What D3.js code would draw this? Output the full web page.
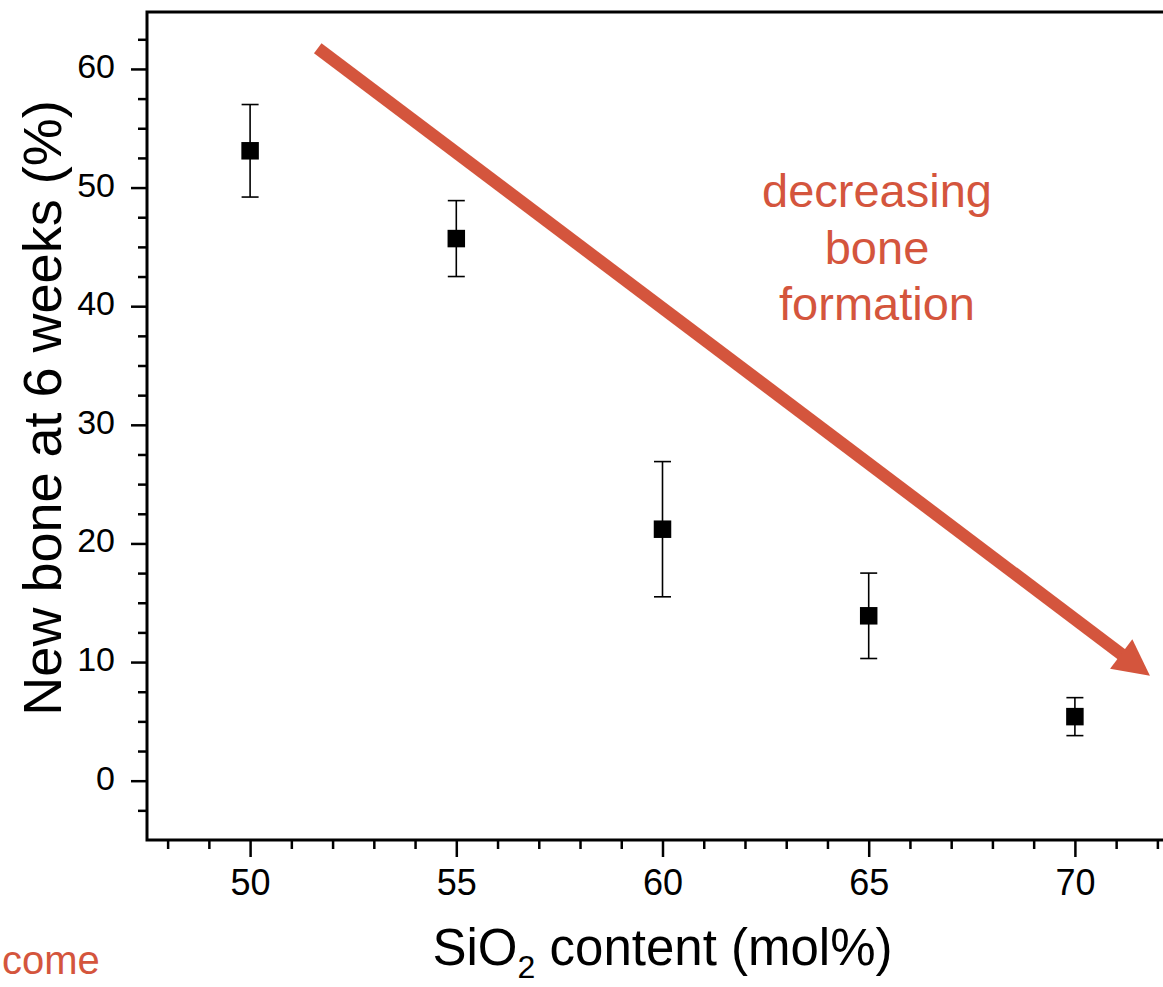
<!DOCTYPE html>
<html>
<head>
<meta charset="utf-8">
<script src="https://cdn.jsdelivr.net/npm/d3@7"></script>
<style>
    body { margin: 0; background: #fff; }
    svg { display: block; font-family: "Liberation Sans", Arial, sans-serif; }
</style>
</head>
<body>
<div id="container"></div>
<script>
"use strict";

// data
var sio2 = [50, 55, 60, 65, 70];
var newBone = [53.1, 45.7, 21.2, 13.9, 5.4];
var boneErr = [3.9, 3.2, 5.7, 3.6, 1.6];

var xTickValues = [50, 55, 60, 65, 70];
var yTickValues = [0, 10, 20, 30, 40, 50, 60];

// annotation arrow, in data units (start, tip)
var arrowX = [51.64, 71.82];
var arrowY = [61.75, 8.85];

var red = "#d4553d";
var font = "Liberation Sans, Arial, sans-serif";
var width = 1163;
var height = 987;
var margin = { left: 147, top: 12 };
var plotW = 1031;
var plotH = 828;

var svg = d3.select("#container").append("svg").attr("width", width).attr("height", height);
var g = svg.append("g").attr("transform", "translate(" + margin.left + "," + margin.top + ")");

var x = d3.scaleLinear().domain([47.5, 72.5]).range([0, plotW]);
var y = d3.scaleLinear().domain([-5, 64.8]).range([plotH, 0]);

var xMinor = d3.range(48, 73, 1).filter(function (v) { return v % 5 !== 0; });
var yMinor = d3.range(-2.5, 64, 2.5).filter(function (v) { return v % 10 !== 0; });

// minor ticks
g.append("g").attr("class", "x-minor").attr("transform", "translate(0," + plotH + ")")
    .call(d3.axisBottom(x).tickValues(xMinor).tickSize(9).tickFormat(""));
g.append("g").attr("class", "y-minor")
    .call(d3.axisLeft(y).tickValues(yMinor).tickSize(9).tickFormat(""));

// major ticks
var xAxis = g.append("g").attr("class", "x-axis").attr("transform", "translate(0," + plotH + ")")
    .call(d3.axisBottom(x).tickValues(xTickValues).tickSize(17).tickPadding(12).tickFormat(d3.format("d")));
var yAxis = g.append("g").attr("class", "y-axis")
    .call(d3.axisLeft(y).tickValues(yTickValues).tickSize(16).tickPadding(16).tickFormat(d3.format("d")));

g.selectAll(".domain").remove();
g.selectAll(".tick line").attr("stroke", "#000").attr("stroke-width", 2.5);
xAxis.attr("font-family", font);
yAxis.attr("font-family", font);
xAxis.selectAll("text").attr("font-size", 36).attr("fill", "#000");
yAxis.selectAll("text").attr("font-size", 34).attr("fill", "#000").attr("dy", "0.25em");

// frame (left, bottom, top, right)
g.append("path")
    .attr("d", "M" + [x(72.5), 0] + "H0V" + plotH + "H" + x(72.5) + "V0")
    .attr("fill", "none").attr("stroke", "#000").attr("stroke-width", 3)
    .attr("stroke-linecap", "square");

// annotation arrow
var x0 = x(arrowX[0]), y0 = y(arrowY[0]), x1 = x(arrowX[1]), y1 = y(arrowY[1]);
var len = Math.sqrt((x1 - x0) * (x1 - x0) + (y1 - y0) * (y1 - y0));
var ux = (x1 - x0) / len, uy = (y1 - y0) / len;
var headL = 36, headW = 18.5;
var bx = x1 - ux * headL, by = y1 - uy * headL;
g.append("line")
    .attr("x1", x0).attr("y1", y0)
    .attr("x2", bx + ux * 4).attr("y2", by + uy * 4)
    .attr("stroke", red).attr("stroke-width", 12.5);
g.append("path")
    .attr("d", "M" + [x1, y1] + "L" + [bx - uy * headW, by + ux * headW] + "L" + [bx + uy * headW, by - ux * headW] + "Z")
    .attr("fill", red);

// error bars
var pts = sio2.map(function (v, i) {
    return { x: v, y: newBone[i], e: boneErr[i] };
});
var capW = 8.5;
var eb = g.selectAll(".err").data(pts).enter().append("g").attr("class", "err")
    .attr("stroke", "#000").attr("stroke-width", 1.6);
eb.append("line")
    .attr("x1", function (d) { return x(d.x); }).attr("x2", function (d) { return x(d.x); })
    .attr("y1", function (d) { return y(d.y + d.e); }).attr("y2", function (d) { return y(d.y - d.e); });
eb.append("line")
    .attr("x1", function (d) { return x(d.x) - capW; }).attr("x2", function (d) { return x(d.x) + capW; })
    .attr("y1", function (d) { return y(d.y + d.e); }).attr("y2", function (d) { return y(d.y + d.e); });
eb.append("line")
    .attr("x1", function (d) { return x(d.x) - capW; }).attr("x2", function (d) { return x(d.x) + capW; })
    .attr("y1", function (d) { return y(d.y - d.e); }).attr("y2", function (d) { return y(d.y - d.e); });

// square markers
var sq = 17.5;
g.selectAll(".pt").data(pts).enter().append("rect").attr("class", "pt")
    .attr("x", function (d) { return x(d.x) - sq / 2; })
    .attr("y", function (d) { return y(d.y) - sq / 2; })
    .attr("width", sq).attr("height", sq)
    .attr("fill", "#000");

// axis titles
var xt = svg.append("text")
    .attr("x", margin.left + x(60)).attr("y", 965)
    .attr("text-anchor", "middle").attr("font-size", 51).attr("fill", "#000");
xt.append("tspan").text("SiO");
xt.append("tspan").attr("font-size", 32).attr("dy", 13).text("2");
xt.append("tspan").attr("dy", -13).text(" content (mol%)");

svg.append("text")
    .attr("transform", "translate(61," + 408 + ") rotate(-90)")
    .attr("text-anchor", "middle").attr("font-size", 54).attr("fill", "#000")
    .text("New bone at 6 weeks (%)");

// annotation text
var note = ["decreasing", "bone", "formation"];
svg.selectAll(".note").data(note).enter().append("text").attr("class", "note")
    .attr("x", 877).attr("y", function (d, i) { return 207 + i * 56.5; })
    .attr("text-anchor", "middle").attr("font-size", 47).attr("fill", red)
    .text(function (d) { return d; });

// partial annotation from the neighbouring panel
svg.append("text")
    .attr("x", 2).attr("y", 974)
    .attr("font-size", 40).attr("fill", red)
    .text("come");
</script>
</body>
</html>
